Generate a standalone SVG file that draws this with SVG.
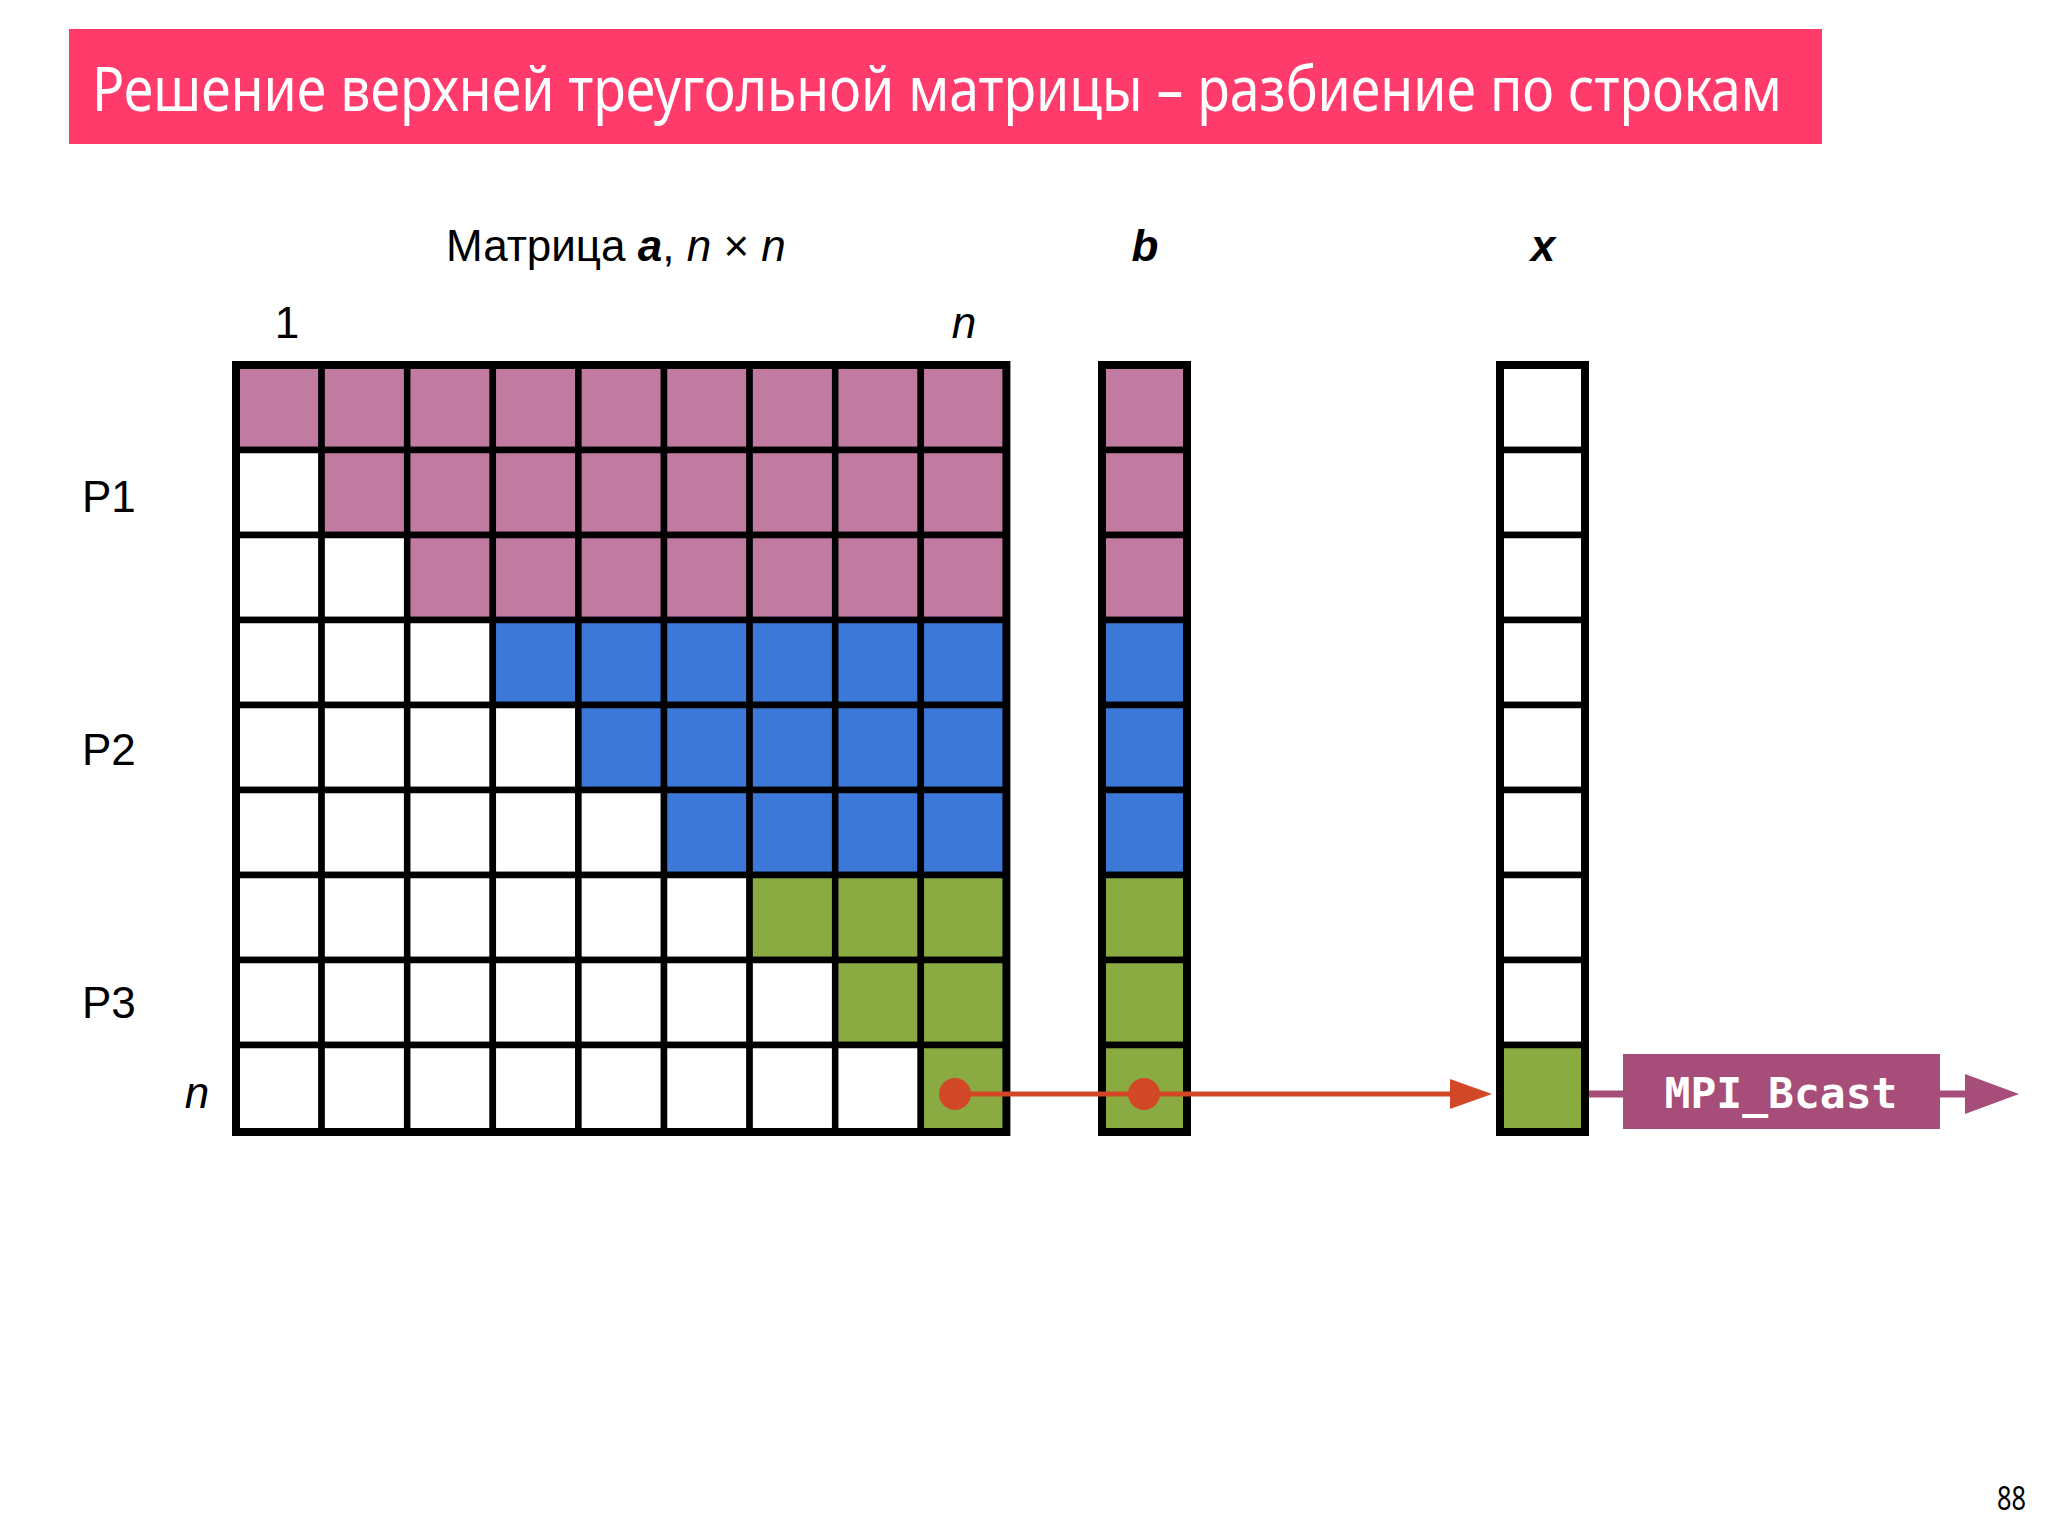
<svg xmlns="http://www.w3.org/2000/svg" width="2048" height="1536" viewBox="0 0 2048 1536">
<style>
.lbl{font-family:"Liberation Sans",Arial,sans-serif;font-size:44px;fill:#000}
.it{font-style:italic}
.bd{font-weight:bold}
.pk{fill:#C27BA0}
.bl{fill:#3C78D8}
.gr{fill:#8AAB42}
.wh{fill:#FFFFFF}
.cell{stroke:#000;stroke-width:6.5}
.frame{fill:none;stroke:#000;stroke-width:8}
</style>
<rect width="2048" height="1536" fill="#FFFFFF"/>
<g id="title">
<rect x="69" y="29" width="1753" height="115" fill="#FF3B6C"/>
<text x="92" y="111" font-family="'Noto Sans','Open Sans',sans-serif" font-size="62" fill="#FFFFFF" textLength="1690" lengthAdjust="spacingAndGlyphs">Решение верхней треугольной матрицы – разбиение по строкам</text>
</g>
<g id="labels">
<text class="lbl" x="446" y="261" font-size="45">Матрица <tspan class="bd it">a</tspan>, <tspan class="it">n</tspan> × <tspan class="it">n</tspan></text>
<text class="lbl bd it" x="1145" y="261" text-anchor="middle">b</text>
<text class="lbl bd it" x="1543" y="261" text-anchor="middle">x</text>
<text class="lbl" x="287" y="338" text-anchor="middle">1</text>
<text class="lbl it" x="964" y="338" text-anchor="middle">n</text>
<text class="lbl" x="82" y="512">P1</text>
<text class="lbl" x="82" y="765">P2</text>
<text class="lbl" x="82" y="1018">P3</text>
<text class="lbl it" x="197" y="1108" text-anchor="middle">n</text>
</g>
<g id="matrix-a">
<g class="cell">
<rect class="pk" x="236" y="365" width="85.6" height="85"/><rect class="pk" x="321.6" y="365" width="85.6" height="85"/><rect class="pk" x="407.2" y="365" width="85.6" height="85"/><rect class="pk" x="492.8" y="365" width="85.6" height="85"/><rect class="pk" x="578.4" y="365" width="85.6" height="85"/><rect class="pk" x="664" y="365" width="85.6" height="85"/><rect class="pk" x="749.6" y="365" width="85.6" height="85"/><rect class="pk" x="835.2" y="365" width="85.6" height="85"/><rect class="pk" x="920.8" y="365" width="85.6" height="85"/>
<rect class="wh" x="236" y="450" width="85.6" height="85"/><rect class="pk" x="321.6" y="450" width="85.6" height="85"/><rect class="pk" x="407.2" y="450" width="85.6" height="85"/><rect class="pk" x="492.8" y="450" width="85.6" height="85"/><rect class="pk" x="578.4" y="450" width="85.6" height="85"/><rect class="pk" x="664" y="450" width="85.6" height="85"/><rect class="pk" x="749.6" y="450" width="85.6" height="85"/><rect class="pk" x="835.2" y="450" width="85.6" height="85"/><rect class="pk" x="920.8" y="450" width="85.6" height="85"/>
<rect class="wh" x="236" y="535" width="85.6" height="85"/><rect class="wh" x="321.6" y="535" width="85.6" height="85"/><rect class="pk" x="407.2" y="535" width="85.6" height="85"/><rect class="pk" x="492.8" y="535" width="85.6" height="85"/><rect class="pk" x="578.4" y="535" width="85.6" height="85"/><rect class="pk" x="664" y="535" width="85.6" height="85"/><rect class="pk" x="749.6" y="535" width="85.6" height="85"/><rect class="pk" x="835.2" y="535" width="85.6" height="85"/><rect class="pk" x="920.8" y="535" width="85.6" height="85"/>
<rect class="wh" x="236" y="620" width="85.6" height="85"/><rect class="wh" x="321.6" y="620" width="85.6" height="85"/><rect class="wh" x="407.2" y="620" width="85.6" height="85"/><rect class="bl" x="492.8" y="620" width="85.6" height="85"/><rect class="bl" x="578.4" y="620" width="85.6" height="85"/><rect class="bl" x="664" y="620" width="85.6" height="85"/><rect class="bl" x="749.6" y="620" width="85.6" height="85"/><rect class="bl" x="835.2" y="620" width="85.6" height="85"/><rect class="bl" x="920.8" y="620" width="85.6" height="85"/>
<rect class="wh" x="236" y="705" width="85.6" height="85"/><rect class="wh" x="321.6" y="705" width="85.6" height="85"/><rect class="wh" x="407.2" y="705" width="85.6" height="85"/><rect class="wh" x="492.8" y="705" width="85.6" height="85"/><rect class="bl" x="578.4" y="705" width="85.6" height="85"/><rect class="bl" x="664" y="705" width="85.6" height="85"/><rect class="bl" x="749.6" y="705" width="85.6" height="85"/><rect class="bl" x="835.2" y="705" width="85.6" height="85"/><rect class="bl" x="920.8" y="705" width="85.6" height="85"/>
<rect class="wh" x="236" y="790" width="85.6" height="85"/><rect class="wh" x="321.6" y="790" width="85.6" height="85"/><rect class="wh" x="407.2" y="790" width="85.6" height="85"/><rect class="wh" x="492.8" y="790" width="85.6" height="85"/><rect class="wh" x="578.4" y="790" width="85.6" height="85"/><rect class="bl" x="664" y="790" width="85.6" height="85"/><rect class="bl" x="749.6" y="790" width="85.6" height="85"/><rect class="bl" x="835.2" y="790" width="85.6" height="85"/><rect class="bl" x="920.8" y="790" width="85.6" height="85"/>
<rect class="wh" x="236" y="875" width="85.6" height="85"/><rect class="wh" x="321.6" y="875" width="85.6" height="85"/><rect class="wh" x="407.2" y="875" width="85.6" height="85"/><rect class="wh" x="492.8" y="875" width="85.6" height="85"/><rect class="wh" x="578.4" y="875" width="85.6" height="85"/><rect class="wh" x="664" y="875" width="85.6" height="85"/><rect class="gr" x="749.6" y="875" width="85.6" height="85"/><rect class="gr" x="835.2" y="875" width="85.6" height="85"/><rect class="gr" x="920.8" y="875" width="85.6" height="85"/>
<rect class="wh" x="236" y="960" width="85.6" height="85"/><rect class="wh" x="321.6" y="960" width="85.6" height="85"/><rect class="wh" x="407.2" y="960" width="85.6" height="85"/><rect class="wh" x="492.8" y="960" width="85.6" height="85"/><rect class="wh" x="578.4" y="960" width="85.6" height="85"/><rect class="wh" x="664" y="960" width="85.6" height="85"/><rect class="wh" x="749.6" y="960" width="85.6" height="85"/><rect class="gr" x="835.2" y="960" width="85.6" height="85"/><rect class="gr" x="920.8" y="960" width="85.6" height="85"/>
<rect class="wh" x="236" y="1045" width="85.6" height="87"/><rect class="wh" x="321.6" y="1045" width="85.6" height="87"/><rect class="wh" x="407.2" y="1045" width="85.6" height="87"/><rect class="wh" x="492.8" y="1045" width="85.6" height="87"/><rect class="wh" x="578.4" y="1045" width="85.6" height="87"/><rect class="wh" x="664" y="1045" width="85.6" height="87"/><rect class="wh" x="749.6" y="1045" width="85.6" height="87"/><rect class="wh" x="835.2" y="1045" width="85.6" height="87"/><rect class="gr" x="920.8" y="1045" width="85.6" height="87"/>
</g>
<rect class="frame" x="236" y="365" width="770.4" height="767"/>
</g>
<g id="vector-b">
<g class="cell">
<rect class="pk" x="1102" y="365" width="85" height="85"/><rect class="pk" x="1102" y="450" width="85" height="85"/><rect class="pk" x="1102" y="535" width="85" height="85"/>
<rect class="bl" x="1102" y="620" width="85" height="85"/><rect class="bl" x="1102" y="705" width="85" height="85"/><rect class="bl" x="1102" y="790" width="85" height="85"/>
<rect class="gr" x="1102" y="875" width="85" height="85"/><rect class="gr" x="1102" y="960" width="85" height="85"/><rect class="gr" x="1102" y="1045" width="85" height="87"/>
</g>
<rect class="frame" x="1102" y="365" width="85" height="767"/>
</g>
<g id="vector-x">
<g class="cell">
<rect class="wh" x="1500" y="365" width="85" height="85"/><rect class="wh" x="1500" y="450" width="85" height="85"/><rect class="wh" x="1500" y="535" width="85" height="85"/>
<rect class="wh" x="1500" y="620" width="85" height="85"/><rect class="wh" x="1500" y="705" width="85" height="85"/><rect class="wh" x="1500" y="790" width="85" height="85"/>
<rect class="wh" x="1500" y="875" width="85" height="85"/><rect class="wh" x="1500" y="960" width="85" height="85"/><rect class="gr" x="1500" y="1045" width="85" height="87"/>
</g>
<rect class="frame" x="1500" y="365" width="85" height="767"/>
</g>
<g id="connectors">
<line x1="955" y1="1094" x2="1450" y2="1094" stroke="#D24726" stroke-width="5"/>
<polygon points="1450,1079 1492,1094 1450,1109" fill="#D24726"/>
<circle cx="955" cy="1094" r="16" fill="#D24726"/>
<circle cx="1144" cy="1094" r="16" fill="#D24726"/>
<line x1="1589" y1="1094" x2="1625" y2="1094" stroke="#A64D79" stroke-width="7"/>
<line x1="1938" y1="1094" x2="1968" y2="1094" stroke="#A64D79" stroke-width="7"/>
<polygon points="1965,1074 2019,1094 1965,1114" fill="#A64D79"/>
</g>
<g id="mpi-bcast">
<rect x="1623" y="1054" width="317" height="75" fill="#A64D79"/>
<text x="1781" y="1108" text-anchor="middle" font-family="'DejaVu Sans Mono','Liberation Mono',monospace" font-weight="bold" font-size="43" fill="#FFFFFF">MPI_Bcast</text>
</g>
<text x="1997" y="1510" font-family="'Noto Sans','Open Sans',sans-serif" font-size="32" fill="#000" textLength="29" lengthAdjust="spacingAndGlyphs">88</text>
</svg>
